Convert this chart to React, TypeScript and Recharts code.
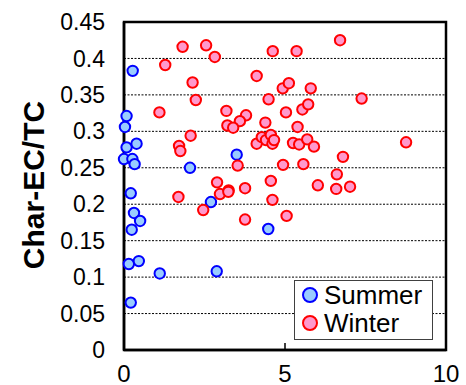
import React from 'react';
import * as R from 'recharts';
import { ScatterChart, Scatter, XAxis, YAxis, CartesianGrid, Legend } from 'recharts';

const FONT = "'Liberation Sans', Arial, sans-serif";

const seriesNames = ['Summer', 'Winter'];
const xDomain = [0, 10];
const xTicks = [0, 5, 10];
const yTicks = [0, 0.05, 0.1, 0.15, 0.2, 0.25, 0.3, 0.35, 0.4, 0.45];

const summerPoints: [number, number][] = [
  [0.27, 0.383], [0.08, 0.321], [0.03, 0.306], [0.08, 0.278], [0.39, 0.283],
  [0.0, 0.262], [0.26, 0.262], [0.33, 0.255], [3.5, 0.268], [2.05, 0.25],
  [0.21, 0.215], [2.7, 0.203], [0.31, 0.188], [0.5, 0.177], [0.24, 0.165],
  [4.48, 0.166], [0.15, 0.118], [0.46, 0.122], [1.11, 0.105], [2.88, 0.108],
  [0.21, 0.065],
];

const winterPoints: [number, number][] = [
  [1.82, 0.416], [2.55, 0.418], [2.82, 0.402], [1.28, 0.391], [2.13, 0.367],
  [2.23, 0.343], [1.1, 0.326], [3.18, 0.328], [3.79, 0.322], [3.6, 0.314],
  [3.21, 0.308], [3.39, 0.305], [4.39, 0.312], [4.12, 0.376], [4.62, 0.41],
  [4.49, 0.344], [4.93, 0.359], [5.12, 0.366], [5.03, 0.326], [2.07, 0.294],
  [1.71, 0.28], [1.75, 0.273], [3.53, 0.253], [4.94, 0.254], [2.89, 0.23],
  [3.25, 0.219], [3.76, 0.222], [4.56, 0.232], [4.12, 0.283], [4.28, 0.292],
  [4.41, 0.288], [4.56, 0.295], [4.61, 0.283], [4.66, 0.288], [5.25, 0.284],
  [6.71, 0.425], [5.36, 0.41], [5.8, 0.359], [7.38, 0.345], [5.54, 0.33],
  [5.72, 0.337], [5.39, 0.306], [8.76, 0.285], [5.44, 0.282], [5.69, 0.289],
  [5.9, 0.279], [6.8, 0.265], [5.57, 0.255], [6.61, 0.241], [6.02, 0.226],
  [6.59, 0.221], [7.02, 0.224], [1.69, 0.21], [2.46, 0.192], [2.98, 0.214],
  [3.24, 0.217], [4.61, 0.206], [3.76, 0.179], [5.05, 0.184],
];

const summerData = summerPoints.map(([x, y]) => ({ x, y }));
const winterData = winterPoints.map(([x, y]) => ({ x, y }));

const COLORS = {
  Summer: { fill: '#99CCFF', stroke: '#0000FF' },
  Winter: { fill: '#FF99CC', stroke: '#FF0000' },
};

const makeDot = (fill: string, stroke: string) => (props: any) => (
  <circle cx={props.cx} cy={props.cy} r={5.2} fill={fill} stroke={stroke} strokeWidth={2} />
);

const TICK_GAP = 15;

const XTick = (props: any) => {
  const { x, y, payload } = props;
  return (
    <g>
      <text x={x} y={y} dy="0.71em" textAnchor="middle" fontSize={24} fill="#000" fontFamily={FONT}>
        {payload.value}
      </text>
    </g>
  );
};

const Frame = () => {
  const usePA = (R as any).usePlotArea;
  const area = usePA ? usePA() : null;
  if (!area) return null;
  const bottom = area.y + area.height;
  return (
    <g>
      <rect
        x={area.x}
        y={area.y}
        width={area.width}
        height={area.height}
        fill="none"
        stroke="#000"
        strokeWidth={2.5}
      />
      {xTicks.map((t) => {
        const px = area.x + ((t - xDomain[0]) / (xDomain[1] - xDomain[0])) * area.width;
        return <rect key={t} x={px - 0.75} y={bottom - 7} width={1.5} height={7} fill="#000" />;
      })}
    </g>
  );
};

const YLabel = (props: any) => {
  const vb = props.viewBox || {};
  const cx = (vb.x || 0) + 33;
  const cy = (vb.y || 0) + (vb.height || 0) / 2 - 1;
  return (
    <text
      x={cx}
      y={cy}
      transform={`rotate(-90, ${cx}, ${cy})`}
      textAnchor="middle"
      dominantBaseline="central"
      fontSize={30}
      fontWeight="bold"
      fill="#000"
      fontFamily={FONT}
    >
      Char-EC/TC
    </text>
  );
};

const LegendBox = () => (
  <div
    style={{
      position: 'relative',
      width: 139,
      height: 60,
      boxSizing: 'border-box',
      border: '1.5px solid #404040',
      background: '#fff',
      fontFamily: FONT,
    }}
  >
    {seriesNames.map((name, i) => {
      const c = (COLORS as any)[name];
      return (
        <div
          key={name}
          style={{
            position: 'absolute',
            left: 0,
            top: i * 28,
            height: 28,
            display: 'flex',
            alignItems: 'center',
          }}
        >
          <svg width={30} height={28} style={{ display: 'block' }}>
            <circle cx={15} cy={14} r={7} fill={c.fill} stroke={c.stroke} strokeWidth={2} />
          </svg>
          <span style={{ fontSize: 26, lineHeight: '28px', color: '#000', marginLeft: -1 }}>{name}</span>
        </div>
      );
    })}
  </div>
);

export default function App() {
  return (
    <div style={{ position: 'absolute', left: 0, top: 0, width: 466, height: 385, background: '#fff' }}>
      <ScatterChart width={466} height={385} margin={{ top: 22, right: 20, bottom: 0, left: 0 }}>
        <CartesianGrid vertical={false} horizontal={true} stroke="#000" strokeDasharray="2 1.5" strokeWidth={1} />
        <XAxis
          type="number"
          dataKey="x"
          domain={xDomain}
          ticks={xTicks}
          height={35}
          stroke="#000"
          strokeWidth={2.5}
          axisLine={true}
          tickLine={false}
          tickSize={0}
          tickMargin={TICK_GAP}
          tick={<XTick />}
          interval={0}
        />
        <YAxis
          type="number"
          dataKey="y"
          domain={[0, 0.45]}
          ticks={yTicks}
          width={124}
          stroke="#000"
          strokeWidth={2.5}
          axisLine={true}
          tickLine={false}
          tickSize={0}
          tickMargin={19}
          interval={0}
          tick={{ fontSize: 23, fill: '#000', fontFamily: FONT, strokeWidth: 0 }}
          label={(p: any) => <YLabel {...p} />}
        />
        <Frame />
        <Legend
          layout="horizontal"
          verticalAlign="middle"
          align="center"
          wrapperStyle={{ position: 'absolute', left: 294, top: 280, width: 139, height: 60 }}
          content={() => <LegendBox />}
        />
        <Scatter
          name="Summer"
          data={summerData}
          isAnimationActive={false}
          shape={makeDot(COLORS.Summer.fill, COLORS.Summer.stroke)}
        />
        <Scatter
          name="Winter"
          data={winterData}
          isAnimationActive={false}
          shape={makeDot(COLORS.Winter.fill, COLORS.Winter.stroke)}
        />
      </ScatterChart>
    </div>
  );
}
